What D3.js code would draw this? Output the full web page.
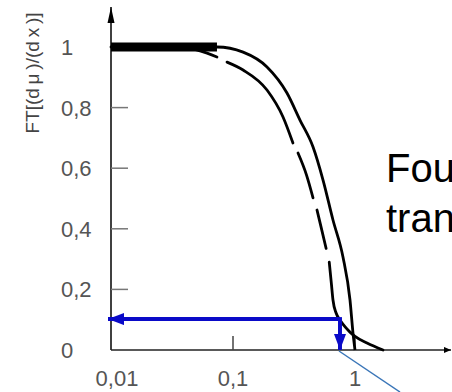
<!DOCTYPE html>
<html>
<head>
<meta charset="utf-8">
<script src="https://cdn.jsdelivr.net/npm/d3@7"></script>
<style>
  html, body { margin: 0; padding: 0; background: #fff; }
  svg { display: block; }
</style>
</head>
<body>
<svg id="chart" width="452" height="392"></svg>
<script>
// ---- data ----
const yTickValues = [0, 0.2, 0.4, 0.6, 0.8, 1];
const yTickLabels = ["0", "0,2", "0,4", "0,6", "0,8", "1"];
const xTickValues = [0.01, 0.1, 1];
const xTickLabels = ["0,01", "0,1", "1"];

// solid curve
const solidX = [0.01, 0.0739, 0.121, 0.19, 0.277, 0.354, 0.453, 0.547, 0.66, 0.797, 0.91, 0.963, 1.0];
const solidY = [1, 1, 0.983, 0.934, 0.848, 0.759, 0.67, 0.561, 0.429, 0.307, 0.165, 0.056, 0];

// thick plateau band
const bandX = [0.01, 0.0739];
const bandY = [1, 1];

// dashed curve, in visible dash pieces
const dashA_X = [0.01, 0.045, 0.0537, 0.0739];
const dashA_Y = [1, 0.995, 0.987, 0.967];
const dashB_X = [0.0893, 0.121, 0.19, 0.257, 0.31];
const dashB_Y = [0.95, 0.924, 0.858, 0.769, 0.683];
const dashC_X = [0.341, 0.40, 0.453];
const dashC_Y = [0.65, 0.578, 0.502];
const dashD_X = [0.488, 0.535, 0.58];
const dashD_Y = [0.462, 0.395, 0.335];
const dashE_X = [0.615, 0.64, 0.66, 0.70, 0.753, 0.83, 0.91, 1.0, 1.254, 1.697];
const dashE_Y = [0.29, 0.22, 0.165, 0.122, 0.099, 0.076, 0.059, 0.045, 0.023, 0];

// blue reading arrows
const readX = 0.753;
const readY = 0.102;

const annotationLines = ["Fourier", "transform"];
const yTitle = "FT[(d\u2009\u03bc\u2009)/(d\u2009x\u2009)]";

// ---- drawing ----
const svg = d3.select("#chart");
const x = d3.scaleLog().domain([0.01, 1]).range([111, 355]);
const y = d3.scaleLinear().domain([0, 1]).range([350, 47]);

const defs = svg.append("defs");
defs.append("marker").attr("id", "axArrowUp")
  .attr("viewBox", "0 0 16 8").attr("refX", 16).attr("refY", 4)
  .attr("markerWidth", 16).attr("markerHeight", 8).attr("markerUnits", "userSpaceOnUse")
  .attr("orient", "auto")
  .append("path").attr("d", "M0,0.5 L16,4 L0,7.5 Z").attr("fill", "#000");
defs.append("marker").attr("id", "axArrowRight")
  .attr("viewBox", "0 0 8 8").attr("refX", 8).attr("refY", 4)
  .attr("markerWidth", 7).attr("markerHeight", 7).attr("markerUnits", "userSpaceOnUse")
  .attr("orient", "auto")
  .append("path").attr("d", "M0,0.5 L8,4 L0,7.5 Z").attr("fill", "#000");
defs.append("marker").attr("id", "blueArrow")
  .attr("viewBox", "0 0 16 12").attr("refX", 16).attr("refY", 6)
  .attr("markerWidth", 16).attr("markerHeight", 12).attr("markerUnits", "userSpaceOnUse")
  .attr("orient", "auto")
  .append("path").attr("d", "M0,0 L16,6 L0,12 Z").attr("fill", "#0a0ac8");

const fontLabel = "'Liberation Sans', Arial, sans-serif";

// y-axis line with arrow
svg.append("line")
  .attr("x1", x(0.01)).attr("x2", x(0.01))
  .attr("y1", y(0)).attr("y2", 7)
  .attr("stroke", "#000").attr("stroke-width", 1.5)
  .attr("marker-end", "url(#axArrowUp)");

// x-axis line with arrow
svg.append("line")
  .attr("x1", x(0.01)).attr("x2", 451)
  .attr("y1", y(0)).attr("y2", y(0))
  .attr("stroke", "#222").attr("stroke-width", 1.5)
  .attr("marker-end", "url(#axArrowRight)");

// y ticks (inside, pointing right)
svg.selectAll(".ytick").data(yTickValues.filter(v => v > 0 && v < 1))
  .enter().append("line")
  .attr("x1", x(0.01)).attr("x2", x(0.01) + 17)
  .attr("y1", d => y(d)).attr("y2", d => y(d))
  .attr("stroke", "#777").attr("stroke-width", 1.5);

// x ticks (inside, pointing up)
svg.selectAll(".xtick").data(xTickValues.filter(v => v > 0.01))
  .enter().append("line")
  .attr("x1", d => x(d)).attr("x2", d => x(d))
  .attr("y1", y(0)).attr("y2", y(0) - 14)
  .attr("stroke", "#444").attr("stroke-width", 1.5);

// y tick labels
svg.selectAll(".ylab").data(yTickValues)
  .enter().append("text")
  .attr("x", 61).attr("y", d => y(d))
  .attr("dy", "0.36em")
  .attr("font-family", fontLabel).attr("font-size", 22)
  .attr("fill", "#555")
  .text((d, i) => yTickLabels[i]);

// x tick labels
svg.selectAll(".xlab").data(xTickValues)
  .enter().append("text")
  .attr("x", (d, i) => x(d) + (i === 0 ? 6 : 0)).attr("y", 386)
  .attr("text-anchor", "middle")
  .attr("font-family", fontLabel).attr("font-size", 22)
  .attr("fill", "#555")
  .text((d, i) => xTickLabels[i]);

// y title
svg.append("text")
  .attr("transform", "translate(39,73) rotate(-90)")
  .attr("text-anchor", "middle")
  .attr("font-family", fontLabel).attr("font-size", 19)
  .attr("fill", "#444")
  .text(yTitle);

const line = d3.line().x(d => x(d[0])).y(d => y(d[1])).curve(d3.curveMonotoneX);
const zip = (xs, ys) => xs.map((v, i) => [v, ys[i]]);

// dashed curve pieces
[[dashA_X, dashA_Y], [dashB_X, dashB_Y], [dashC_X, dashC_Y], [dashD_X, dashD_Y], [dashE_X, dashE_Y]]
  .forEach(([xs, ys]) => {
    svg.append("path").datum(zip(xs, ys))
      .attr("d", line)
      .attr("fill", "none").attr("stroke", "#000").attr("stroke-width", 2.8)
      .attr("stroke-linecap", "round");
  });

// solid curve
svg.append("path").datum(zip(solidX, solidY))
  .attr("d", line)
  .attr("fill", "none").attr("stroke", "#000").attr("stroke-width", 2.8);

// thick plateau band
svg.append("path").datum(zip(bandX, bandY))
  .attr("d", d3.line().x(d => x(d[0])).y(d => y(d[1])))
  .attr("fill", "none").attr("stroke", "#000").attr("stroke-width", 9);

// blue horizontal reading arrow (to y-axis)
svg.append("line")
  .attr("x1", x(readX)).attr("x2", x(0.01) - 3)
  .attr("y1", y(readY)).attr("y2", y(readY))
  .attr("stroke", "#0a0ac8").attr("stroke-width", 4)
  .attr("marker-end", "url(#blueArrow)");

// blue vertical arrow (down to x-axis)
svg.append("line")
  .attr("x1", x(readX)).attr("x2", x(readX))
  .attr("y1", y(readY) - 2).attr("y2", y(0))
  .attr("stroke", "#0a0ac8").attr("stroke-width", 4)
  .attr("marker-end", "url(#blueArrow)");

// thin callout line
svg.append("line")
  .attr("x1", x(readX) - 1).attr("x2", 400)
  .attr("y1", y(0) + 1).attr("y2", 392)
  .attr("stroke", "#3a76b8").attr("stroke-width", 1.5);

// annotation text (cut off at the right edge, as in the reference)
svg.selectAll(".ann").data(annotationLines)
  .enter().append("text")
  .attr("x", 386).attr("y", (d, i) => 182 + i * 50)
  .attr("font-family", fontLabel).attr("font-size", 40)
  .attr("fill", "#000")
  .text(d => d);
</script>
</body>
</html>
